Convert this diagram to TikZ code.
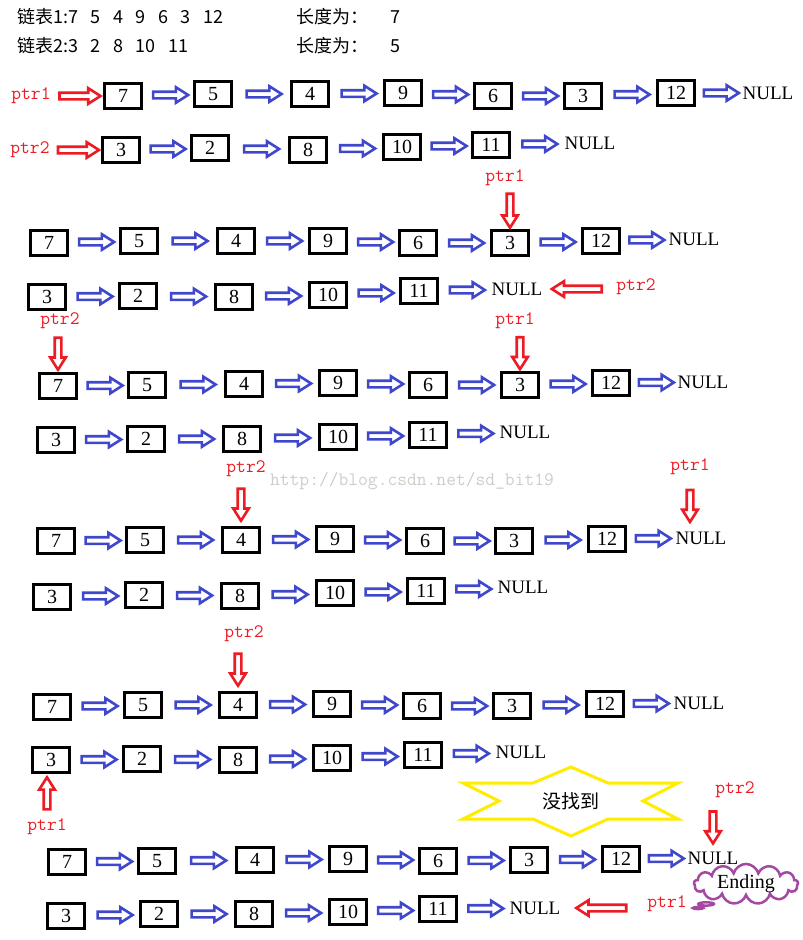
\documentclass[tikz,border=0pt]{standalone}
\usepackage{fontspec}
\setmainfont{Liberation Serif}
\newfontfamily\cjk{Noto Sans CJK SC}
\usetikzlibrary{positioning,shapes.arrows,shapes.callouts,shapes.symbols}
\definecolor{lblue}{RGB}{63,72,204}
\definecolor{pred}{RGB}{237,28,36}
\definecolor{ylw}{RGB}{255,236,0}
\definecolor{pur}{RGB}{163,73,164}
\definecolor{wmgray}{RGB}{205,205,200}
\newcommand\gap{\hspace{12.5pt}}
\tikzset{
  box/.style={draw, line width=3pt, minimum width=37pt, minimum height=25pt, inner sep=0pt, font=\fontsize{20}{22}\selectfont},
  nul/.style={inner sep=1pt, font=\fontsize{19}{21}\selectfont},
  ptr/.style={text=pred, inner sep=1pt, font=\ttfamily\fontsize{19}{21}\selectfont},
  arr/.style={single arrow, fill=white, line width=2.6pt, inner sep=2pt, single arrow head extend=4.5pt, single arrow tip angle=65, minimum width=0pt},
  nextarrow/.style={arr, draw=lblue, minimum height=35pt},
  ptrarrow/.style={arr, draw=pred, sloped, allow upside down, minimum height=#1},
  ptrarrow/.default=34pt,
  head/.style={anchor=west, inner sep=0pt, font=\cjk\fontsize{18}{20}\selectfont}
}
\begin{document}
\begin{tikzpicture}[x=1pt,y=-1pt]
  \useasboundingbox (0,0) rectangle (803,940);
  % header
  \node[head] (h1) at (17,17) {链表1:7\gap 5\gap 4\gap 9\gap 6\gap 3\gap 12};
  \node[head] (h2) at (17,46) {链表2:3\gap 2\gap 8\gap 10\gap 11};
  \node[head] (h3) at (296,17) {长度为：\hspace{22pt}7};
  \node[head] (h4) at (296,46) {长度为：\hspace{22pt}5};
  % step a
  \foreach \x/\y/\v/\s [count=\i, remember=\i as \k (initially 0)] in {123/96/7/box,213/94/5/box,310/94/4/box,403/93/9/box,493/96/6/box,583/96/3/box,676/93/12/box,768/93/NULL/nul}
    {\node[\s] (a1-\i) at (\x,\y) {\v}; \ifnum\i>1 \path (a1-\k.east) -- (a1-\i.west) node[midway,nextarrow]{};\fi}
  \foreach \x/\y/\v/\s [count=\i, remember=\i as \k (initially 0)] in {121/150/3/box,210/148/2/box,308/150/8/box,402/147/10/box,491/145/11/box,590/143/NULL/nul}
    {\node[\s] (a2-\i) at (\x,\y) {\v}; \ifnum\i>1 \path (a2-\k.east) -- (a2-\i.west) node[midway,nextarrow]{};\fi}
  \node[ptr] (pa1) at (31,96) {ptr1};
  \node[ptr] (pa2) at (30,150) {ptr2};
  \path (pa1.east) -- (pa1.east -| a1-1.west) node[midway,ptrarrow=41pt]{};
  \path (pa2.east) -- (pa2.east -| a2-1.west) node[midway,ptrarrow=41pt]{};
  % step b
  \foreach \x/\y/\v/\s [count=\i, remember=\i as \k (initially 0)] in {49/243/7/box,139/241/5/box,236/241/4/box,328/241/9/box,418/243/6/box,510/243/3/box,601/241/12/box,694/239/NULL/nul}
    {\node[\s] (b1-\i) at (\x,\y) {\v}; \ifnum\i>1 \path (b1-\k.east) -- (b1-\i.west) node[midway,nextarrow]{};\fi}
  \foreach \x/\y/\v/\s [count=\i, remember=\i as \k (initially 0)] in {47/297/3/box,138/296/2/box,234/297/8/box,328/295/10/box,419/291/11/box,517/289/NULL/nul}
    {\node[\s] (b2-\i) at (\x,\y) {\v}; \ifnum\i>1 \path (b2-\k.east) -- (b2-\i.west) node[midway,nextarrow]{};\fi}
  \node[ptr] (pb1) at (505,178) {ptr1};
  \node[ptr] (pb2) at (636,287) {ptr2};
  \path (pb1.south -| b1-6.north) -- (b1-6.north) node[midway,ptrarrow]{};
  \path (b2-6.east -| pb2.west) -- (b2-6.east) node[midway,ptrarrow=50pt]{};
  % step c
  \foreach \x/\y/\v/\s [count=\i, remember=\i as \k (initially 0)] in {58/386/7/box,147/385/5/box,244/384/4/box,338/383/9/box,428/385/6/box,520/385/3/box,611/383/12/box,703/382/NULL/nul}
    {\node[\s] (c1-\i) at (\x,\y) {\v}; \ifnum\i>1 \path (c1-\k.east) -- (c1-\i.west) node[midway,nextarrow]{};\fi}
  \foreach \x/\y/\v/\s [count=\i, remember=\i as \k (initially 0)] in {56/440/3/box,146/439/2/box,242/439/8/box,338/437/10/box,428/435/11/box,525/432/NULL/nul}
    {\node[\s] (c2-\i) at (\x,\y) {\v}; \ifnum\i>1 \path (c2-\k.east) -- (c2-\i.west) node[midway,nextarrow]{};\fi}
  \node[ptr] (pc2) at (60,321) {ptr2};
  \node[ptr] (pc1) at (515,321) {ptr1};
  \path (pc2.south -| c1-1.north) -- (c1-1.north) node[midway,ptrarrow=32pt]{};
  \path (pc1.south -| c1-6.north) -- (c1-6.north) node[midway,ptrarrow=32pt]{};
  \node[text=wmgray, inner sep=0pt, font=\ttfamily\fontsize{19}{21}\selectfont] (wm) at (412,481) {http://blog.csdn.net/sd\_bit19};
  % step d
  \foreach \x/\y/\v/\s [count=\i, remember=\i as \k (initially 0)] in {56/541/7/box,145/540/5/box,241/540/4/box,335/539/9/box,425/541/6/box,514/541/3/box,607/539/12/box,701/538/NULL/nul}
    {\node[\s] (d1-\i) at (\x,\y) {\v}; \ifnum\i>1 \path (d1-\k.east) -- (d1-\i.west) node[midway,nextarrow]{};\fi}
  \foreach \x/\y/\v/\s [count=\i, remember=\i as \k (initially 0)] in {52/597/3/box,144/595/2/box,240/596/8/box,335/593/10/box,426/591/11/box,523/587/NULL/nul}
    {\node[\s] (d2-\i) at (\x,\y) {\v}; \ifnum\i>1 \path (d2-\k.east) -- (d2-\i.west) node[midway,nextarrow]{};\fi}
  \node[ptr] (pd2) at (246,469) {ptr2};
  \node[ptr] (pd1) at (690,467) {ptr1};
  \path (pd2.south -| d1-3.north) -- (d1-3.north) node[midway,ptrarrow=32pt]{};
  \path (pd1.south) -- (pd1.south |- d1-8.north) node[midway,ptrarrow=32pt]{};
  % step e
  \foreach \x/\y/\v/\s [count=\i, remember=\i as \k (initially 0)] in {52/707/7/box,143/705/5/box,238/705/4/box,332/704/9/box,422/706/6/box,512/706/3/box,605/704/12/box,699/703/NULL/nul}
    {\node[\s] (e1-\i) at (\x,\y) {\v}; \ifnum\i>1 \path (e1-\k.east) -- (e1-\i.west) node[midway,nextarrow]{};\fi}
  \foreach \x/\y/\v/\s [count=\i, remember=\i as \k (initially 0)] in {51/760/3/box,142/759/2/box,238/760/8/box,332/758/10/box,423/755/11/box,521/752/NULL/nul}
    {\node[\s] (e2-\i) at (\x,\y) {\v}; \ifnum\i>1 \path (e2-\k.east) -- (e2-\i.west) node[midway,nextarrow]{};\fi}
  \node[ptr] (pe2) at (244,634) {ptr2};
  \node[ptr] (pe1) at (47,827) {ptr1};
  \path (pe2.south -| e1-3.north) -- (e1-3.north) node[midway,ptrarrow=32pt]{};
  \path (pe1.north) -- (pe1.north |- e2-1.south) node[midway,ptrarrow=32pt]{};
  % not found
  \draw[ylw, line width=3pt] (463,783) -- (533,783) -- (571,767) -- (608,783) -- (678,783) -- (643,801) -- (678,819) -- (608,819) -- (571,836) -- (533,819) -- (463,819) -- (499,801) -- cycle;
  \node[font=\cjk\fontsize{19}{21}\selectfont] (nf) at (571,801) {没找到};
  % step f
  \foreach \x/\y/\v/\s [count=\i, remember=\i as \k (initially 0)] in {67/862/7/box,157/861/5/box,255/860/4/box,348/859/9/box,438/861/6/box,529/860/3/box,621/859/12/box,713/858/NULL/nul}
    {\node[\s] (f1-\i) at (\x,\y) {\v}; \ifnum\i>1 \path (f1-\k.east) -- (f1-\i.west) node[midway,nextarrow]{};\fi}
  \foreach \x/\y/\v/\s [count=\i, remember=\i as \k (initially 0)] in {66/916/3/box,159/914/2/box,254/914/8/box,348/912/10/box,438/909/11/box,535/908/NULL/nul}
    {\node[\s] (f2-\i) at (\x,\y) {\v}; \ifnum\i>1 \path (f2-\k.east) -- (f2-\i.west) node[midway,nextarrow]{};\fi}
  \node[ptr] (pf2) at (735,790) {ptr2};
  \node[ptr] (pf1) at (667,904) {ptr1};
  \path (pf2.south -| f1-8.north) -- (f1-8.north) node[midway,ptrarrow=32pt]{};
  \path (f2-6.east -| pf1.west) -- (f2-6.east) node[midway,ptrarrow=50pt]{};
  \node[cloud callout, draw=pur, line width=2.5pt, cloud puffs=13, aspect=3.2, minimum width=104pt, minimum height=34pt, inner sep=0pt, callout absolute pointer={(698,908)}, font=\fontsize{20}{22}\selectfont] (end) at (746,884) {Ending};
\end{tikzpicture}
\end{document}
